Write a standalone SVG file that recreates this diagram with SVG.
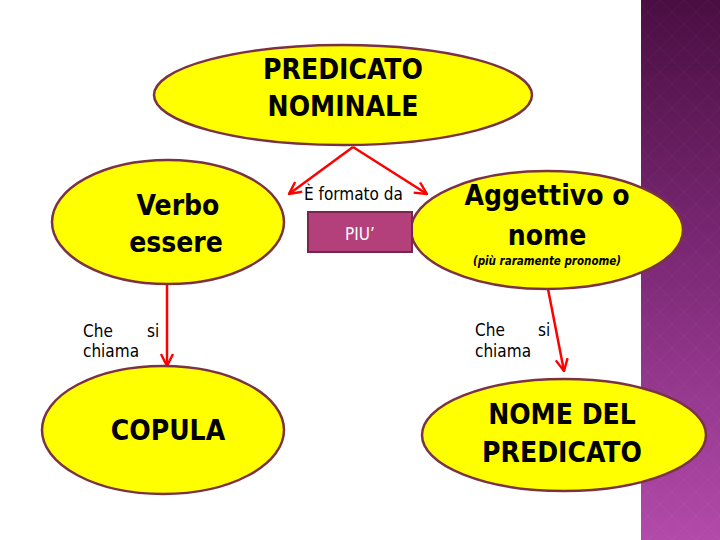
<svg xmlns="http://www.w3.org/2000/svg" width="720" height="540" viewBox="0 0 720 540">
<defs>
<linearGradient id="band" x1="0" y1="0" x2="0" y2="1">
<stop offset="0" stop-color="#4a0e42"/>
<stop offset="0.5" stop-color="#7e2a78"/>
<stop offset="1" stop-color="#b24aaa"/>
</linearGradient>
<pattern id="dia" width="24" height="24" patternUnits="userSpaceOnUse">
<path d="M12 0 L24 12 L12 24 L0 12 Z" fill="none" stroke="#ffffff" stroke-opacity="0.03" stroke-width="1"/>
</pattern>
<marker id="ah" viewBox="0 0 14 14" refX="13" refY="7" markerWidth="14" markerHeight="14" markerUnits="userSpaceOnUse" orient="auto">
<path d="M1 1 L13 7 L1 13" fill="none" stroke="#ff0000" stroke-width="2.4"/>
</marker>
</defs>
<style>
.node{fill:#ffff00;stroke:#7b3243;stroke-width:2.5}
.big{font-family:"DejaVu Sans Condensed","Liberation Sans",sans-serif;font-weight:bold;font-size:28px;fill:#000;text-anchor:middle}
.lbl{font-family:"DejaVu Sans Condensed","Liberation Sans",sans-serif;font-size:17px;fill:#000}
.conn{stroke:#ff0000;stroke-width:2.5;fill:none;marker-end:url(#ah)}
</style>
<rect x="0" y="0" width="720" height="540" fill="#ffffff"/>
<rect x="641" y="0" width="79" height="540" fill="url(#band)"/>
<rect x="641" y="0" width="79" height="540" fill="url(#dia)"/>

<g id="connectors">
<line class="conn" x1="353" y1="147" x2="289" y2="194"/>
<line class="conn" x1="353" y1="147" x2="427" y2="194"/>
<line class="conn" x1="167" y1="284" x2="167" y2="366"/>
<line class="conn" x1="548" y1="289" x2="564" y2="371"/>
</g>

<g id="predicato-nominale">
<ellipse class="node" cx="343" cy="95" rx="189" ry="50"/>
<text class="big" x="343" y="79">PREDICATO</text>
<text class="big" x="343" y="116">NOMINALE</text>
</g>

<g id="verbo-essere">
<ellipse class="node" cx="168" cy="222" rx="116" ry="62"/>
<text class="big" x="178" y="215">Verbo</text>
<text class="big" x="176" y="252">essere</text>
</g>

<g id="aggettivo-nome">
<ellipse class="node" cx="547" cy="230" rx="136" ry="59"/>
<text class="big" x="547" y="205">Aggettivo o</text>
<text class="big" x="547" y="245">nome</text>
<text x="547" y="265" text-anchor="middle" font-family="'DejaVu Sans Condensed','Liberation Sans',sans-serif" font-size="11.5" font-weight="bold" font-style="italic" fill="#000">(più raramente pronome)</text>
</g>

<g id="piu">
<rect x="308" y="212" width="104" height="40" fill="#b3407a" stroke="#7a2550" stroke-width="2"/>
<text x="360" y="240" text-anchor="middle" font-family="'DejaVu Sans Condensed','Liberation Sans',sans-serif" font-size="17" fill="#ffffff">PIU’</text>
</g>

<g id="label-formato">
<text class="lbl" x="304" y="200">È formato da</text>
</g>

<g id="copula">
<ellipse class="node" cx="163" cy="430" rx="121" ry="64"/>
<text class="big" x="168" y="440">COPULA</text>
</g>

<g id="nome-del-predicato">
<ellipse class="node" cx="564" cy="435" rx="142" ry="56"/>
<text class="big" x="562" y="424">NOME DEL</text>
<text class="big" x="562" y="462">PREDICATO</text>
</g>

<g id="label-chiama-left">
<text class="lbl" x="83" y="337">Che</text>
<text class="lbl" x="147" y="337">si</text>
<text class="lbl" x="83" y="357">chiama</text>
</g>

<g id="label-chiama-right">
<text class="lbl" x="475" y="336">Che</text>
<text class="lbl" x="538" y="336">si</text>
<text class="lbl" x="475" y="357">chiama</text>
</g>
</svg>
